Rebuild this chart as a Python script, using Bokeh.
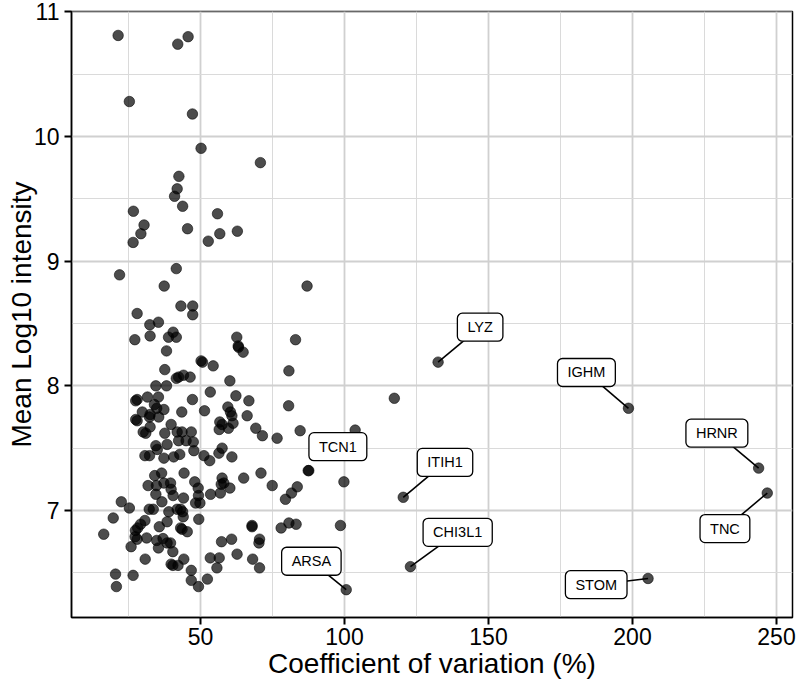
from bokeh.plotting import figure
from bokeh.models import ColumnDataSource, FixedTicker, Range1d
from bokeh.core.properties import value
from bokeh.embed import file_html
from bokeh.resources import INLINE

# ---------------- data ----------------
cv_pct = [
    21.4, 42.1, 45.7, 25.3, 47.2, 50.2, 70.8, 42.5, 41.9, 41.0, 43.8, 26.7, 55.9, 30.4, 29.3, 45.5, 26.6, 56.7, 62.8, 52.7,
    21.9, 41.6, 37.4, 28.0, 43.2, 47.3, 47.3, 32.4, 35.4, 27.2, 32.5, 40.5, 38.9, 41.6, 38.2, 62.6, 63.1, 63.2, 64.8, 50.2,
    50.7, 54.4, 37.6, 41.6, 42.4, 44.1, 46.4, 60.2, 34.5, 38.2, 28.0, 27.5, 31.6, 35.4, 47.2, 53.4, 62.3, 66.8, 34.0, 34.8,
    37.3, 29.8, 32.5, 35.5, 32.3, 43.5, 51.4, 59.5, 60.4, 60.9, 66.2, 27.5, 28.0, 39.8, 32.5, 56.7, 57.5, 61.3, 56.5, 59.7,
    69.2, 30.1, 31.0, 37.6, 41.9, 43.6, 46.8, 42.4, 45.0, 47.5, 34.5, 38.4, 57.5, 71.5,
    35.0, 47.7, 56.4, 60.9, 30.7, 32.3, 37.3, 40.7, 42.8, 51.2, 53.2, 34.1, 36.5, 44.3, 65.0, 71.0, 48.0, 57.5, 58.1, 57.2,
    60.2, 31.8, 34.7, 37.3, 39.6, 39.8, 40.5, 49.2, 49.3, 53.5, 56.9, 34.5, 36.6, 44.1, 48.3, 49.8, 22.5, 25.3, 32.2, 33.6,
    39.0, 41.9, 43.1, 43.8, 44.0, 19.7, 49.4, 16.4, 30.7, 29.2, 28.2, 27.4, 38.4, 35.7, 43.1, 43.6, 45.4, 27.3, 31.3, 28.0,
    25.9, 34.8, 37.0, 38.4, 39.6, 35.4, 40.4, 57.3, 60.8, 62.7, 53.4, 56.5, 55.7, 44.2, 30.8, 39.8, 40.4, 42.2, 46.8, 20.5,
    26.6, 46.8, 52.4, 49.3, 20.8, 67.9, 67.9, 68.1,
    87.0, 83.0, 80.7, 80.6, 117.3, 76.6, 84.6, 103.7,
    87.4, 74.9, 83.6, 81.6, 79.5, 99.8, 78.0, 80.7, 83.2, 98.6, 70.5, 70.3, 70.5,
]
mean_log10 = [
    10.81, 10.74, 10.80, 10.28, 10.18, 9.905, 9.79, 9.68, 9.58, 9.52, 9.44, 9.40, 9.38, 9.29, 9.22, 9.26, 9.15, 9.22, 9.24, 9.16,
    8.89, 8.94, 8.80, 8.58, 8.64, 8.64, 8.57, 8.49, 8.51, 8.37, 8.40, 8.43, 8.39, 8.39, 8.28, 8.39, 8.32, 8.31, 8.27, 8.20,
    8.19, 8.16, 8.13, 8.06, 8.07, 8.085, 8.07, 8.04, 8.00, 8.00, 7.89, 7.88, 7.91, 7.91, 7.89, 7.95, 7.92, 7.88, 7.85, 7.82,
    7.81, 7.79, 7.77, 7.75, 7.75, 7.79, 7.80, 7.83, 7.79, 7.76, 7.76, 7.73, 7.72, 7.69, 7.67, 7.71, 7.69, 7.70, 7.65, 7.66,
    7.66, 7.63, 7.62, 7.62, 7.63, 7.63, 7.63, 7.56, 7.56, 7.55, 7.52, 7.53, 7.50, 7.60,
    7.49, 7.48, 7.46, 7.43, 7.44, 7.44, 7.42, 7.43, 7.45, 7.44, 7.40, 7.28, 7.30, 7.30, 7.26, 7.30, 7.23, 7.26, 7.22, 7.21,
    7.18, 7.20, 7.20, 7.22, 7.22, 7.17, 7.12, 7.18, 7.12, 7.13, 7.14, 7.13, 7.07, 7.10, 7.06, 7.06, 7.07, 7.02, 7.01, 7.01,
    6.99, 7.01, 7.01, 6.99, 6.95, 6.94, 6.93, 6.81, 6.92, 6.89, 6.86, 6.84, 6.91, 6.87, 6.86, 6.85, 6.83, 6.79, 6.78, 6.77,
    6.71, 6.76, 6.775, 6.74, 6.74, 6.70, 6.67, 6.75, 6.77, 6.65, 6.62, 6.62, 6.54, 6.61, 6.61, 6.57, 6.56, 6.56, 6.52, 6.49,
    6.48, 6.44, 6.45, 6.39, 6.39, 6.88, 6.87, 6.61,
    8.80, 8.37, 8.12, 7.84, 7.90, 7.58, 7.64, 7.645,
    7.32, 7.20, 7.19, 7.14, 7.09, 7.23, 6.86, 6.90, 6.89, 6.88, 6.77, 6.74, 6.54,
]

genes = ["TCN1", "LYZ", "IGHM", "HRNR", "TNC", "ITIH1", "CHI3L1", "STOM", "ARSA"]
gene_cv = [87.6, 132.5, 198.6, 243.8, 246.8, 120.4, 122.9, 205.4, 100.6]
gene_mean = [7.32, 8.19, 7.82, 7.34, 7.14, 7.106, 6.55, 6.455, 6.365]
label_cv = [97.7, 147.1, 184.0, 229.3, 232.1, 134.9, 139.3, 187.4, 88.5]
label_mean = [7.512, 8.47, 8.107, 7.62, 6.855, 7.386, 6.825, 6.405, 6.593]
draw_segment = [False, True, True, True, True, True, True, True, True]

x_ticks = [50, 100, 150, 200, 250]
y_ticks = [7, 8, 9, 10, 11]
x_minor = [25, 75, 125, 175, 225]
y_minor = [6.5, 7.5, 8.5, 9.5, 10.5]

# ---------------- figure ----------------
W, H = 800, 685
FONT = "Liberation Sans"

p = figure(width=W, height=H, output_backend="svg", toolbar_location=None,
           x_range=Range1d(5.21, 255.56), y_range=Range1d(6.142, 11.002),
           min_border_left=71, min_border_right=8, min_border_top=11, min_border_bottom=68,
           background_fill_color="white", border_fill_color="white",
           x_axis_label="Coefficient of variation (%)", y_axis_label="Mean Log10 intensity")

p.outline_line_color = "black"
p.outline_line_width = 1.5

p.xaxis.ticker = FixedTicker(ticks=x_ticks, minor_ticks=x_minor)
p.yaxis.ticker = FixedTicker(ticks=y_ticks, minor_ticks=y_minor)
for ax in (p.xaxis, p.yaxis):
    ax.axis_line_color = "black"
    ax.axis_line_width = 1.5
    ax.major_tick_line_color = "black"
    ax.major_tick_line_width = 2
    ax.major_tick_out = 7
    ax.major_tick_in = 0
    ax.minor_tick_line_color = None
    ax.major_label_text_font = FONT
    ax.major_label_text_font_size = "23px"
    ax.major_label_text_color = "black"
    ax.axis_label_text_font = FONT
    ax.axis_label_text_font_size = "28px"
    ax.axis_label_text_font_style = "normal"
    ax.axis_label_text_color = "black"
p.xaxis.axis_label_standoff = 0
p.yaxis.axis_label_standoff = -6
p.xaxis.major_label_standoff = 3
p.yaxis.major_label_standoff = 5

for g in (p.xgrid, p.ygrid):
    g.grid_line_color = "#d0d0d0"
    g.grid_line_width = 1.8
    g.minor_grid_line_color = "#dadada"
    g.minor_grid_line_width = 1.0

# points
src = ColumnDataSource(dict(x=cv_pct + gene_cv, y=mean_log10 + gene_mean))
p.scatter("x", "y", source=src, size=10.5, fill_color="black", fill_alpha=0.7,
          line_color="black", line_alpha=0.7, line_width=0.8)

# repel segments (point -> label centre; covered by the label box)
idx = [i for i in range(len(genes)) if draw_segment[i]]
seg = ColumnDataSource(dict(
    x0=[gene_cv[i] for i in idx], y0=[gene_mean[i] for i in idx],
    x1=[label_cv[i] for i in idx], y1=[label_mean[i] for i in idx],
))
p.segment("x0", "y0", "x1", "y1", source=seg, line_color="black", line_width=1.6)

lab = ColumnDataSource(dict(x=label_cv, y=label_mean, t=genes))
p.text("x", "y", text="t", source=lab, text_font=value(FONT), text_font_size="14.5px",
       text_color="black", text_align="center", text_baseline="middle",
       background_fill_color="white", background_fill_alpha=1.0,
       border_line_color="black", border_line_width=1.3,
       padding=(10, 6), border_radius=5)

open("out.html", "w").write(file_html(p, INLINE))
